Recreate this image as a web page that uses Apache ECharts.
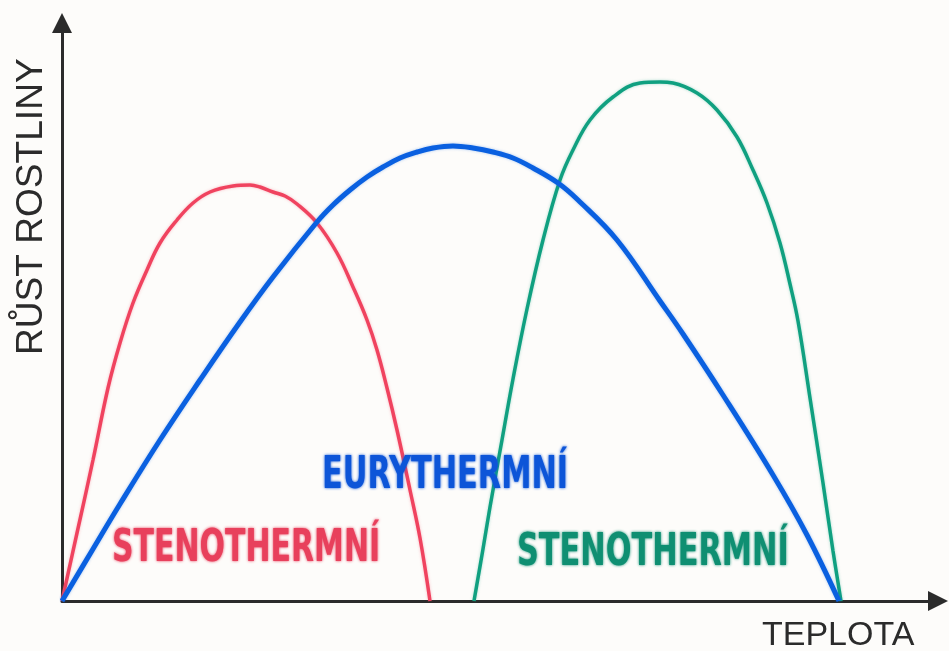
<!DOCTYPE html>
<html>
<head>
<meta charset="utf-8">
<script src="https://cdn.jsdelivr.net/npm/echarts@6/dist/echarts.min.js"></script>
<style>
  html, body { margin: 0; padding: 0; background: #fdfcfa; }
  #chart { width: 949px; height: 651px; }
</style>
</head>
<body>
<div id="chart"></div>
<script>
// hodnoty (x = teplota, y = rust rostliny)
let redCurve = [[0,0],[15,68],[31,141],[46,213],[58,258],[71,298],[85,331],[98,358],[115,381],[131,398],[148,409],[171,415],[188,416],[198,414],[211,409],[223,405],[235,397],[255,378],[275,348],[291,314],[305,281],[315,251],[325,213],[335,171],[348,111],[358,63],[368,0]];
let blueCurve = [[0,0],[31,52],[58,97],[98,161],[138,221],[178,279],[211,324],[255,379],[271,396],[288,411],[305,424],[321,434],[338,443],[355,449],[371,453],[391,455],[411,453],[431,449],[451,443],[471,433],[496,418],[516,401],[555,361],[598,300],[621,267],[661,206],[711,126],[745,66],[777,0]];
let greenCurve = [[412,0],[421,52],[428,94],[440,161],[451,222],[465,292],[481,361],[498,421],[511,451],[528,481],[551,504],[578,518],[598,519],[611,518],[635,508],[655,491],[675,464],[691,431],[705,398],[718,358],[728,317],[736,280],[748,203],[761,118],[771,50],[779,0]];
let axisNames = ['TEPLOTA', 'RŮST ROSTLINY'];
let curveNames = ['STENOTHERMNÍ', 'EURYTHERMNÍ', 'STENOTHERMNÍ'];

let chart = echarts.init(document.getElementById('chart'));

let narrow = '"DejaVu Sans Condensed", "Liberation Sans Narrow", sans-serif';
let plain = '"Liberation Sans", Arial, sans-serif';
let axisLineStyle = {
    show: true,
    symbol: ['none', 'triangle'],
    symbolSize: [20, 20],
    lineStyle: { color: '#2b2b2b', width: 3 }
};

// popisky krivek
function curveLabel(text, x, y, color, sx) {
    return {
        type: 'text', x: x, y: y, scaleX: sx, z: 10,
        style: {
            text: text, fill: color, font: 'bold 45px ' + narrow,
            textAlign: 'left', textVerticalAlign: 'middle',
            textShadowColor: color, textShadowBlur: 3
        }
    };
}

let option = {
    backgroundColor: '#fdfcfa',
    animation: false,
    grid: { left: 62, right: 11, top: 23, bottom: 50 },
    xAxis: {
        type: 'value', min: 0, max: 876,
        axisLine: axisLineStyle,
        axisTick: { show: false }, axisLabel: { show: false }, splitLine: { show: false }
    },
    yAxis: {
        type: 'value', min: 0, max: 578,
        axisLine: axisLineStyle,
        axisTick: { show: false }, axisLabel: { show: false }, splitLine: { show: false }
    },
    series: [
        { name: 'red', type: 'line', data: redCurve, smooth: 0.4, showSymbol: false,
          lineStyle: { color: '#f0435f', width: 3.5, shadowColor: 'rgba(240,67,95,0.35)', shadowBlur: 3 }, z: 3 },
        { name: 'blue', type: 'line', data: blueCurve, smooth: 0.4, showSymbol: false,
          lineStyle: { color: '#0a60e0', width: 5, shadowColor: 'rgba(10,96,224,0.35)', shadowBlur: 3 }, z: 4 },
        { name: 'green', type: 'line', data: greenCurve, smooth: 0.4, showSymbol: false,
          lineStyle: { color: '#10a080', width: 3.5, shadowColor: 'rgba(16,160,128,0.35)', shadowBlur: 3 }, z: 3 }
    ],
    graphic: [
        { type: 'text', x: 762, y: 636,
          style: { text: axisNames[0], fill: '#2b2b2b', font: '34px ' + plain,
                   textAlign: 'left', textVerticalAlign: 'middle' } },
        { type: 'text', x: 32, y: 355, rotation: Math.PI / 2, scaleX: 1.03,
          style: { text: axisNames[1], fill: '#2b2b2b', font: '36px ' + plain,
                   textAlign: 'left', textVerticalAlign: 'middle' } },
        curveLabel(curveNames[0], 112, 549, '#e8405c', 0.74),
        curveLabel(curveNames[1], 322, 476, '#0d55d8', 0.75),
        curveLabel(curveNames[2], 517, 553, '#0f8f72', 0.75)
    ]
};
chart.setOption(option);
</script>
</body>
</html>
